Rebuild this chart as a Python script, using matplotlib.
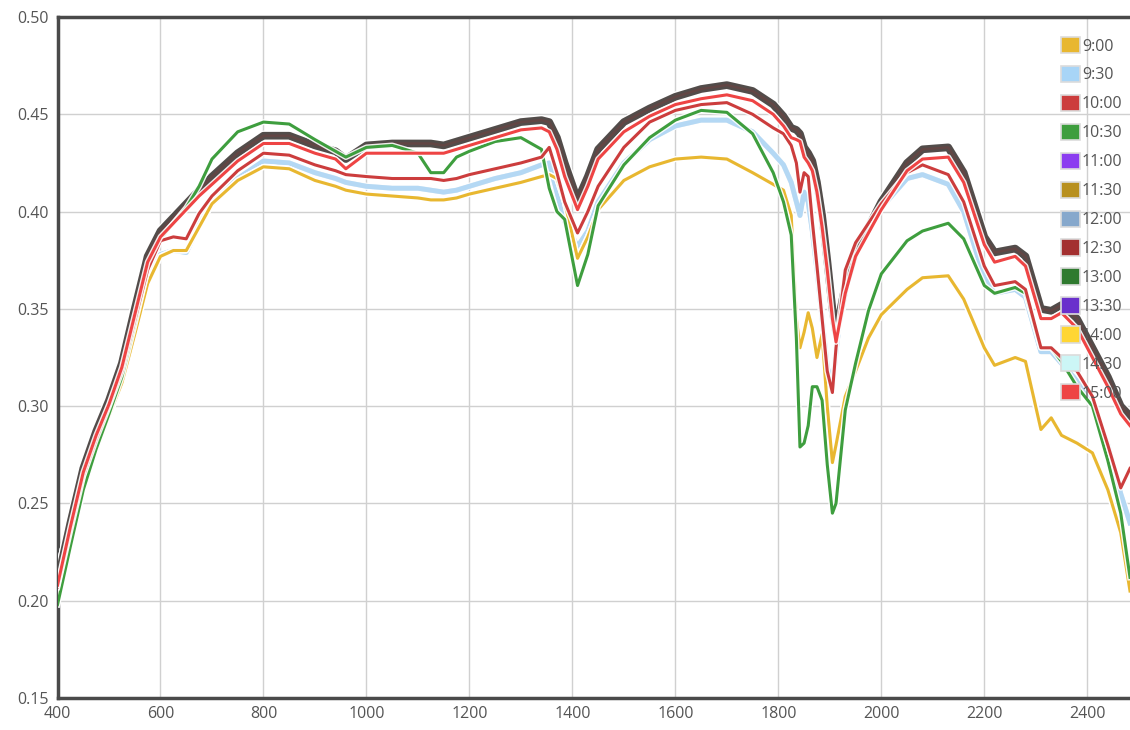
import matplotlib
matplotlib.use("Agg")
import matplotlib.pyplot as plt
import matplotlib.patheffects as pe
from matplotlib.patches import Patch

plt.rcParams['font.family'] = ['Open Sans', 'DejaVu Sans']

# wavelength grid (nm)
wl = [400, 425, 450, 475, 500, 525, 550, 575, 600, 625,
      650, 675, 700, 750, 800, 850, 900, 940, 960, 1000,
      1050, 1100, 1125, 1150, 1175, 1200, 1250, 1300, 1340, 1355,
      1370, 1385, 1410, 1430, 1450, 1500, 1550, 1600, 1650, 1700,
      1750, 1790, 1810, 1825, 1835, 1842, 1850, 1858, 1866, 1875,
      1885, 1895, 1905, 1912, 1930, 1950, 1975, 2000, 2050, 2080,
      2130, 2160, 2200, 2220, 2260, 2280, 2310, 2330, 2350, 2380,
      2410, 2440, 2465, 2483]

# reflectance curves
top = [.210, .240, .268, .287, .303, .322, .350, .377, .390, .397,
       .404, .411, .418, .430, .439, .439, .434, .431, .427, .434,
       .435, .435, .435, .434, .436, .438, .442, .446, .447, .446,
       .438, .425, .406, .418, .432, .446, .453, .459, .463, .465,
       .462, .455, .449, .443, .442, .440, .433, .430, .426, .415,
       .398, .375, .350, .338, .362, .380, .392, .405, .425, .432,
       .433, .420, .387, .379, .381, .377, .350, .349, .352, .345,
       .330, .315, .300, .295]

red_hi = [.208, .238, .266, .285, .301, .320, .347, .374, .387, .394,
          .401, .408, .414, .426, .435, .435, .430, .427, .422, .430,
          .430, .430, .430, .430, .432, .434, .438, .442, .443, .441,
          .432, .418, .401, .413, .427, .441, .449, .455, .458, .460,
          .457, .450, .444, .438, .437, .436, .428, .425, .421, .410,
          .392, .370, .345, .333, .358, .377, .389, .401, .421, .427,
          .428, .415, .383, .374, .377, .372, .345, .345, .348, .340,
          .325, .310, .296, .290]

red_lo = [.207, .236, .264, .283, .300, .318, .344, .370, .385, .387,
          .386, .399, .408, .421, .430, .429, .424, .421, .419, .418,
          .417, .417, .417, .416, .417, .419, .422, .425, .428, .433,
          .420, .405, .389, .400, .413, .433, .446, .452, .455, .456,
          .450, .443, .440, .434, .425, .410, .420, .418, .395, .372,
          .345, .318, .307, .330, .370, .384, .394, .404, .420, .424,
          .419, .405, .372, .362, .364, .360, .330, .330, .325, .318,
          .305, .280, .258, .268]

blue = [.200, .230, .258, .278, .296, .313, .338, .364, .378, .380,
        .379, .393, .404, .417, .426, .425, .420, .417, .415, .413,
        .412, .412, .411, .410, .411, .413, .417, .420, .424, .425,
        .410, .395, .382, .390, .405, .425, .437, .444, .447, .447,
        .441, .430, .424, .415, .405, .398, .410, .405, .390, .370,
        .345, .320, .310, .328, .368, .382, .392, .402, .417, .419,
        .414, .400, .366, .358, .360, .356, .328, .328, .322, .313,
        .300, .280, .255, .240]

green = [.198, .228, .257, .278, .296, .315, .342, .370, .386, .394,
         .402, .413, .427, .441, .446, .445, .437, .431, .428, .433,
         .434, .430, .420, .420, .428, .431, .436, .438, .432, .412,
         .400, .396, .362, .378, .403, .424, .438, .447, .452, .451,
         .440, .420, .405, .388, .335, .279, .281, .290, .310, .310,
         .303, .270, .245, .250, .298, .322, .349, .368, .385, .390,
         .394, .386, .362, .358, .361, .358, .330, .330, .323, .310,
         .300, .272, .245, .212]

yellow = [.199, .229, .258, .278, .295, .312, .337, .363, .377, .380,
          .380, .392, .404, .416, .423, .422, .416, .413, .411, .409,
          .408, .407, .406, .406, .407, .409, .412, .415, .418, .419,
          .417, .405, .376, .387, .401, .416, .423, .427, .428, .427,
          .420, .414, .411, .398, .345, .330, .338, .348, .340, .325,
          .337, .300, .271, .280, .305, .318, .335, .347, .360, .366,
          .367, .355, .330, .321, .325, .323, .288, .294, .285, .281,
          .276, .257, .235, .205]

times = ['9:00', '9:30', '10:00', '10:30', '11:00', '11:30', '12:00',
         '12:30', '13:00', '13:30', '14:00', '14:30', '15:00']
colors = ['#E8B730', '#A8D5F7', '#CC3D3D', '#3E9E3E', '#8B3DF0', '#B8901F',
          '#86A8CC', '#A33030', '#2F7A2F', '#6A30CC', '#FFD633', '#CCF6F6',
          '#EE4444']
curves = {'9:00': yellow, '9:30': blue, '10:00': red_lo, '10:30': green,
          '11:00': top, '11:30': yellow, '12:00': blue, '12:30': top,
          '13:00': top, '13:30': top, '14:00': yellow, '14:30': blue,
          '15:00': red_hi}
draw_order = ['14:30', '12:00', '9:30', '11:30', '14:00', '9:00',
              '11:00', '13:30', '13:00', '12:30', '10:30', '10:00', '15:00']
top_group = ['11:00', '12:30', '13:00', '13:30']
blue_group = ['9:30', '12:00', '14:30']

fig = plt.figure(figsize=(11.3, 7.3), dpi=100)
ax = fig.add_axes([0.0509, 0.0438, 0.9491, 0.9329])

for t in draw_order:
    c = colors[times.index(t)]
    if t in top_group:
        ax.plot(wl, curves[t], color=c, lw=1.8, alpha=0.2, zorder=3,
                path_effects=[pe.Stroke(linewidth=7, foreground='white', alpha=0.9),
                              pe.Stroke(linewidth=5.5, foreground='#524c4a', alpha=1.0),
                              pe.Normal()])
    elif t in blue_group:
        ax.plot(wl, curves[t], color=c, lw=3.5, alpha=0.75, zorder=2,
                path_effects=[pe.Stroke(linewidth=5, foreground='white', alpha=0.6),
                              pe.Normal()])
    else:
        ax.plot(wl, curves[t], color=c, lw=2.2, zorder=4,
                path_effects=[pe.Stroke(linewidth=4.2, foreground='white', alpha=0.9),
                              pe.Normal()])

ax.set_xlim(400, 2483)
ax.set_ylim(0.15, 0.50)
ax.set_xticks(range(400, 2401, 200))
ax.set_yticks([0.15, 0.20, 0.25, 0.30, 0.35, 0.40, 0.45, 0.50])
ax.set_yticklabels(['%.2f' % v for v in ax.get_yticks()])
ax.grid(True, color='#d0d0d0', lw=1)
ax.set_axisbelow(True)
ax.tick_params(length=0, labelsize=11.5, colors='#555555', pad=6)

for s in ['left', 'bottom', 'top']:
    ax.spines[s].set_color('#4a4a4a')
    ax.spines[s].set_linewidth(2.5)
ax.spines['right'].set_visible(False)

handles = [Patch(facecolor=c, edgecolor='#dcdcdc', linewidth=1.2) for c in colors]
leg = fig.legend(handles, times, loc='upper left', bbox_to_anchor=(1061 / 1130, 1 - 37 / 730),
                 frameon=False, fontsize=11.5, handlelength=1.2, handleheight=1.2,
                 handletextpad=0.1, labelspacing=0.71, borderpad=0, borderaxespad=0)
for txt in leg.get_texts():
    txt.set_color('#555555')

fig.savefig('out.png', dpi=100)
